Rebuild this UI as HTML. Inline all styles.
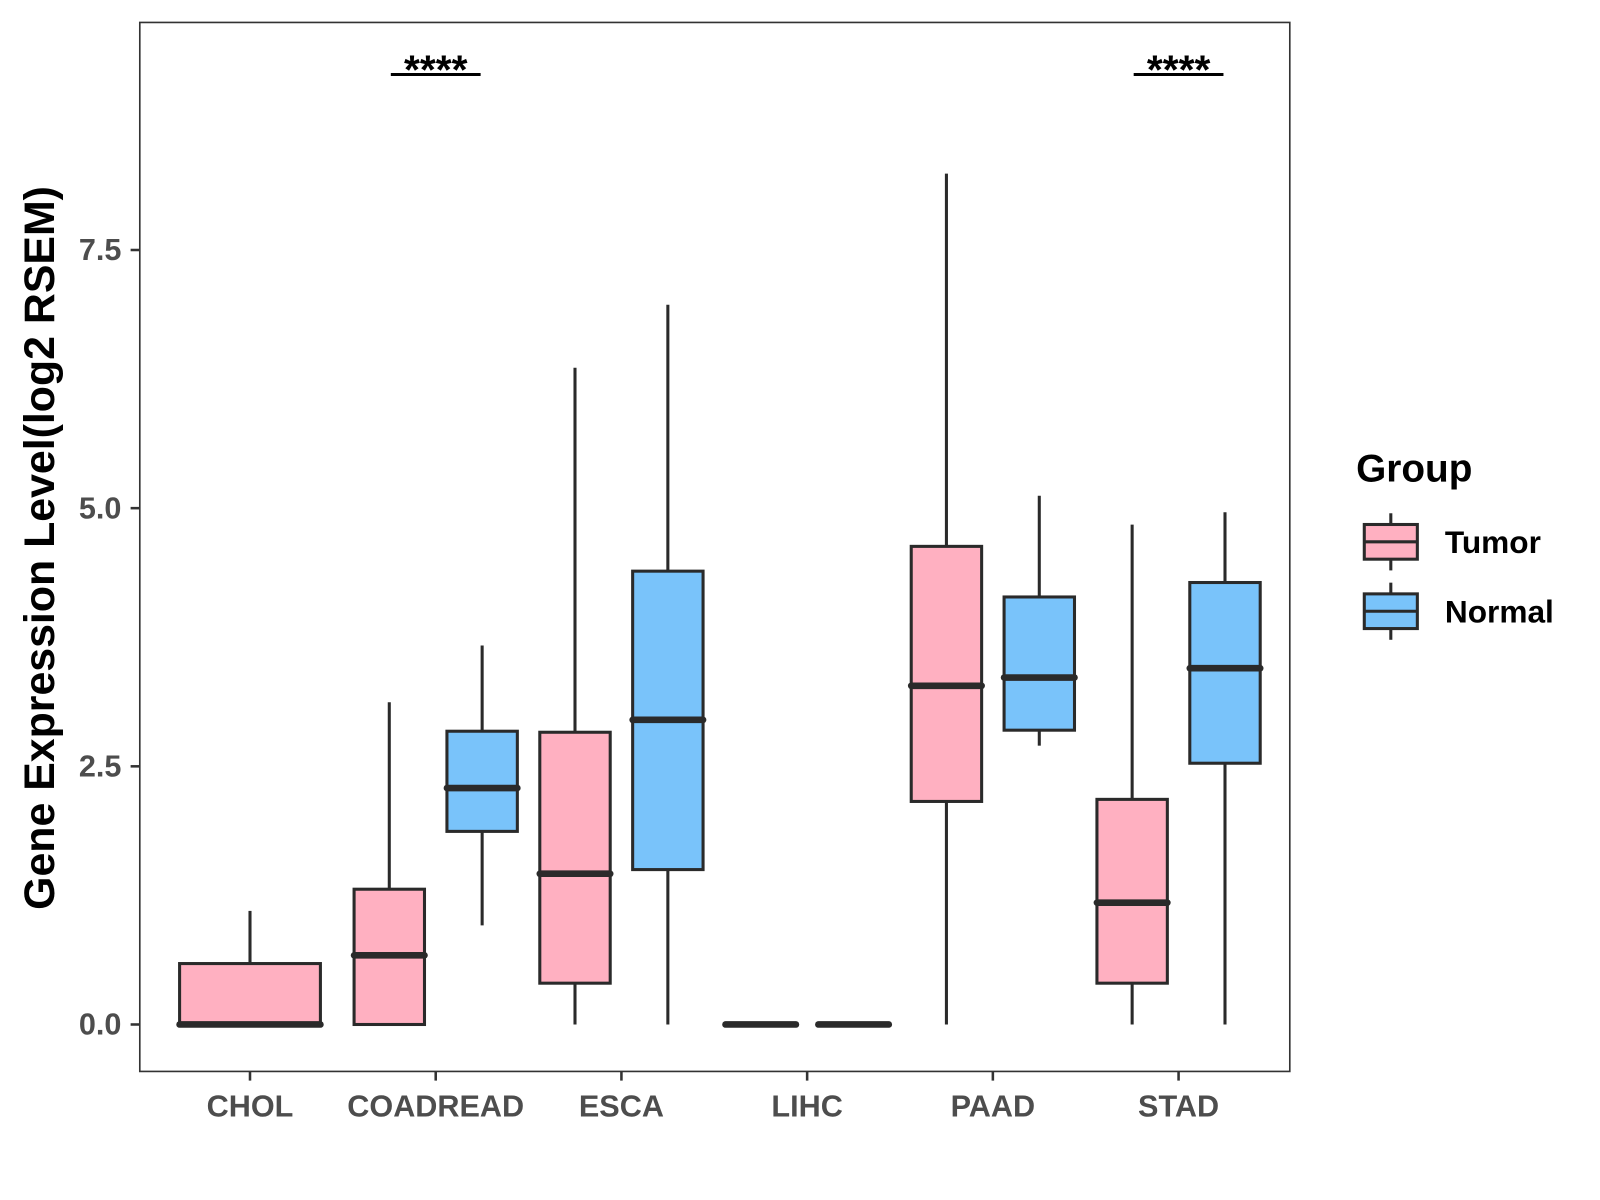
<!DOCTYPE html>
<html><head><meta charset="utf-8"><style>html,body{margin:0;padding:0;background:#fff;}svg{display:block}</style></head>
<body>
<svg id="chart" width="1600" height="1200" viewBox="0 0 1568 1176" xmlns="http://www.w3.org/2000/svg" font-family="Liberation Sans, Arial, sans-serif">
<rect x="0" y="0" width="1568" height="1176" fill="#fff"/>
<g id="marks"></g>
<rect x="137" y="22" width="1127" height="1028" fill="none" stroke="#333" stroke-width="1.6"/>
<g id="axes"></g>
<text transform="translate(53,537) rotate(-90)" text-anchor="middle" font-size="42" font-weight="bold" fill="#000">Gene Expression Level(log2 RSEM)</text>
<g>
<text x="1329" y="472" font-size="38" font-weight="bold" fill="#000">Group</text>
<g>
<line x1="1363" y1="503" x2="1363" y2="559" stroke="#2a2a2a" stroke-width="3"/>
<rect x="1337" y="514" width="52" height="34" fill="#FFB0C1" stroke="#2a2a2a" stroke-width="3"/>
<line x1="1337" y1="531" x2="1389" y2="531" stroke="#2a2a2a" stroke-width="3"/>
<text x="1416" y="542" font-size="31" font-weight="bold" fill="#000">Tumor</text></g>
<g>
<line x1="1363" y1="571" x2="1363" y2="627" stroke="#2a2a2a" stroke-width="3"/>
<rect x="1337" y="582" width="52" height="34" fill="#79C3FA" stroke="#2a2a2a" stroke-width="3"/>
<line x1="1337" y1="599" x2="1389" y2="599" stroke="#2a2a2a" stroke-width="3"/>
<text x="1416" y="610" font-size="31" font-weight="bold" fill="#000">Normal</text></g>
</g>
</svg>
<script>
const categories = ["CHOL","COADREAD","ESCA","LIHC","PAAD","STAD"];
const tumorMin    = [0, 0, 0, 0, 0, 0];
const tumorQ1     = [0, 0, 0.40, 0, 2.16, 0.40];
const tumorMedian = [0, 0.67, 1.46, 0, 3.28, 1.18];
const tumorQ3     = [0.59, 1.31, 2.83, 0, 4.63, 2.18];
const tumorMax    = [1.10, 3.12, 6.36, 0, 8.24, 4.84];
const normalMin    = [null, 0.96, 0, 0, 2.70, 0];
const normalQ1     = [null, 1.87, 1.50, 0, 2.85, 2.53];
const normalMedian = [null, 2.29, 2.95, 0, 3.36, 3.45];
const normalQ3     = [null, 2.84, 4.39, 0, 4.14, 4.28];
const normalMax    = [null, 3.67, 6.97, 0, 5.12, 4.96];
const yTicks = [0, 2.5, 5, 7.5];
const yTickLabels = ["0.0","2.5","5.0","7.5"];
const sigCategories = ["COADREAD","STAD"];
const sigLabels = ["****","****"];

const NS = "http://www.w3.org/2000/svg";
const y = v => 1004 - v * 101.2;
const xc = i => 245 + i * 182;
function mk(tag, attrs, parent){const e=document.createElementNS(NS,tag);for(const k in attrs)e.setAttribute(k,attrs[k]);parent.appendChild(e);return e;}
const marks = document.getElementById("marks");
const axes = document.getElementById("axes");

function drawBox(cx, w, mn, q1, md, q3, mx, fill, name){
  const g = mk("g", {}, marks);
  
  
  mk("line",{x1:cx,x2:cx,y1:y(mx),y2:y(q3),stroke:"#2a2a2a","stroke-width":3},g);
  mk("line",{x1:cx,x2:cx,y1:y(q1),y2:y(mn),stroke:"#2a2a2a","stroke-width":3},g);
  mk("rect",{x:cx-w/2,y:y(q3),width:w,height:Math.max(0,y(q1)-y(q3)),fill:fill,stroke:"#2a2a2a","stroke-width":3},g);
  mk("line",{x1:cx-w/2,x2:cx+w/2,y1:y(md),y2:y(md),stroke:"#2a2a2a","stroke-width":6.5,"stroke-linecap":"round"},g);
}
categories.forEach((c,i)=>{
  const hasN = normalMin[i] !== null;
  if(hasN){
    drawBox(xc(i)-45.5, 69, tumorMin[i], tumorQ1[i], tumorMedian[i], tumorQ3[i], tumorMax[i], "#FFB0C1", "box-tumor-"+c.toLowerCase());
    drawBox(xc(i)+45.5, 69, normalMin[i], normalQ1[i], normalMedian[i], normalQ3[i], normalMax[i], "#79C3FA", "box-normal-"+c.toLowerCase());
  } else {
    drawBox(xc(i), 138, tumorMin[i], tumorQ1[i], tumorMedian[i], tumorQ3[i], tumorMax[i], "#FFB0C1", "box-tumor-"+c.toLowerCase());
  }
  mk("line",{x1:xc(i),x2:xc(i),y1:1050,y2:1059,stroke:"#333","stroke-width":2.5},axes);
  const t = mk("text",{x:xc(i),y:1094,"text-anchor":"middle","font-size":30,"font-weight":"bold",fill:"#4d4d4d"},axes);
  
  
  t.textContent = c;
});
yTicks.forEach((v,i)=>{
  mk("line",{x1:128,x2:137,y1:y(v),y2:y(v),stroke:"#333","stroke-width":2.5},axes);
  const t = mk("text",{x:119,y:y(v)+10,"text-anchor":"end","font-size":30,"font-weight":"bold",fill:"#4d4d4d"},axes);
  
  
  t.textContent = yTickLabels[i];
});
sigCategories.forEach((c,k)=>{
  const i = categories.indexOf(c);
  const g = mk("g",{},marks);
  
  
  mk("line",{x1:xc(i)-44,x2:xc(i)+44,y1:73,y2:73,stroke:"#000","stroke-width":3},g);
  const t = mk("text",{x:xc(i),y:82,"text-anchor":"middle","font-size":40,"font-weight":"bold",fill:"#000"},g);
  t.textContent = sigLabels[k];
});
</script>
</body></html>
